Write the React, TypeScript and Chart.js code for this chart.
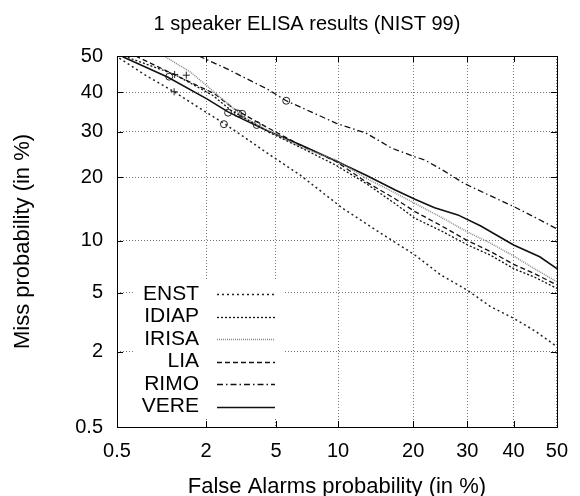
import React, { useEffect, useRef } from 'react';
import { Chart, LinearScale, registerables } from 'chart.js';

Chart.register(...registerables);

// ---------- data (percent) ----------
const TITLE = '1 speaker ELISA results (NIST 99)';
const X_TITLE = 'False Alarms probability (in %)';
const Y_TITLE = 'Miss probability (in %)';

const X_TICKS = [0.5, 2, 5, 10, 20, 30, 40, 50];
const Y_TICKS = [0.5, 2, 5, 10, 20, 30, 40, 50];

const ENST_FA = [0.52, 0.8, 1.25, 1.8, 2.56, 3.4, 4.5, 6.65, 10.5, 15, 20.3, 24.9, 30, 34.9, 40, 45, 50];
const ENST_MISS = [49.4, 44.7, 40.2, 36.0, 32.0, 28.5, 25.0, 20.4, 14.5, 11.0, 8.35, 6.4, 5.2, 4.09, 3.43, 2.8, 2.18];

const IDIAP_FA = [0.6, 1.26, 2.2, 2.8, 3.6, 4.6, 6.65, 9.8, 13.2, 17, 20.3, 25, 30, 35, 40, 45, 50];
const IDIAP_MISS = [49.6, 44.9, 39.2, 35.4, 32.6, 29.8, 26.3, 22.4, 18.8, 15.4, 13.0, 11.2, 9.5, 8.3, 7.0, 6.2, 5.33];

const IRISA_FA = [1.07, 1.59, 2.12, 2.77, 3.43, 4.14, 6.65, 9.8, 13.2, 17, 20.3, 25, 30, 34.9, 40, 45.3, 50];
const IRISA_MISS = [50, 45.6, 41.0, 36.6, 33.2, 31.2, 26.4, 23.5, 19.8, 17.2, 15.3, 13.1, 11.1, 9.68, 8.25, 6.86, 5.85];

const LIA_FA = [0.68, 1.22, 2.24, 2.93, 3.8, 4.79, 6.65, 9.8, 13.2, 17, 20.3, 25, 30, 35, 40, 45, 50];
const LIA_MISS = [50, 45.1, 39.7, 35.7, 32.8, 30.3, 26.8, 23.2, 19.1, 16.2, 14.0, 11.9, 10.0, 8.7, 7.4, 6.5, 5.59];

const RIMO_FA = [1.8, 2.71, 4.5, 5.65, 7.5, 9.84, 13.2, 16.7, 20.3, 22, 25.5, 29.4, 34, 40, 45, 50];
const RIMO_MISS = [50, 46.3, 40.9, 37.8, 34.9, 32.0, 29.6, 26.1, 24.2, 23.5, 21.2, 18.8, 16.9, 14.8, 13.1, 11.5];

const VERE_FA = [0.55, 1.13, 2.02, 2.71, 3.5, 4.4, 6.65, 9.8, 13.2, 17.2, 20.3, 23.7, 28.1, 32.8, 40, 46, 50];
const VERE_MISS = [49.8, 44.2, 38.3, 34.9, 32.5, 30.4, 26.9, 23.3, 20.4, 17.6, 16.0, 14.6, 13.5, 11.9, 9.47, 8.17, 7.0];

const CIRCLE_FA = [1.16, 2.71, 3.09, 3.27, 2.56, 3.94, 5.65];
const CIRCLE_MISS = [44.3, 34.7, 34.5, 34.4, 31.8, 31.6, 37.8];
const PLUS_FA = [1.26, 1.5, 1.25];
const PLUS_MISS = [44.9, 44.7, 40.2];

const SYSTEMS = ['ENST', 'IDIAP', 'IRISA', 'LIA', 'RIMO', 'VERE'];

// ---------- normal deviate helpers ----------
function probit(p: number): number {
  const a = [-3.969683028665376e1, 2.209460984245205e2, -2.759285104469687e2, 1.38357751867269e2, -3.066479806614716e1, 2.506628277459239];
  const b = [-5.447609879822406e1, 1.615858368580409e2, -1.556989798598866e2, 6.680131188771972e1, -1.328068155288572e1];
  const c = [-7.784894002430293e-3, -3.223964580411365e-1, -2.400758277161838, -2.549732539343734, 4.374664141464968, 2.938163982698783];
  const d = [7.784695709041462e-3, 3.224671290700398e-1, 2.445134137142996, 3.754408661907416];
  const pl = 0.02425;
  if (p < pl) {
    const q = Math.sqrt(-2 * Math.log(p));
    return (((((c[0] * q + c[1]) * q + c[2]) * q + c[3]) * q + c[4]) * q + c[5]) / ((((d[0] * q + d[1]) * q + d[2]) * q + d[3]) * q + 1);
  }
  if (p <= 1 - pl) {
    const q = p - 0.5;
    const r = q * q;
    return ((((((a[0] * r + a[1]) * r + a[2]) * r + a[3]) * r + a[4]) * r + a[5]) * q) / (((((b[0] * r + b[1]) * r + b[2]) * r + b[3]) * r + b[4]) * r + 1);
  }
  const q = Math.sqrt(-2 * Math.log(1 - p));
  return -(((((c[0] * q + c[1]) * q + c[2]) * q + c[3]) * q + c[4]) * q + c[5]) / ((((d[0] * q + d[1]) * q + d[2]) * q + d[3]) * q + 1);
}

function normCdf(z: number): number {
  const t = 1 / (1 + 0.3275911 * Math.abs(z) / Math.SQRT2);
  const y = 1 - (((((1.061405429 * t - 1.453152027) * t) + 1.421413741) * t - 0.284496736) * t + 0.254829592) * t * Math.exp(-(z * z) / 2);
  return z >= 0 ? 0.5 * (1 + y) : 0.5 * (1 - y);
}

class ProbitScale extends (LinearScale as any) {
  static id = 'probit';
  static defaults = (LinearScale as any).defaults;
  determineDataLimits() {
    this.min = this.options.min;
    this.max = this.options.max;
  }
  buildTicks() {
    const vals = this.axis === 'x' ? X_TICKS : Y_TICKS;
    return vals.map((v) => ({ value: v }));
  }
  configure() {
    super.configure();
    this._pmin = probit(this.min / 100);
    this._pmax = probit(this.max / 100);
  }
  getPixelForValue(value: number) {
    const dec = (probit(value / 100) - this._pmin) / (this._pmax - this._pmin);
    return this.getPixelForDecimal(dec);
  }
  getValueForPixel(pixel: number) {
    const dec = this.getDecimalForPixel(pixel);
    return 100 * normCdf(this._pmin + dec * (this._pmax - this._pmin));
  }
}
Chart.register(ProbitScale as any);

const FONT = 'Liberation Sans, Arial, Helvetica, sans-serif';

function pts(xs: number[], ys: number[]) {
  return xs.map((x, i) => ({ x, y: ys[i] }));
}

const frameTicksPlugin = {
  id: 'frameTicks',
  afterDatasetsDraw(chart: any) {
    const { ctx, chartArea: a } = chart;
    const xs = chart.scales.x;
    const ys = chart.scales.y;
    ctx.save();
    ctx.strokeStyle = '#000';
    ctx.lineWidth = 1;
    ctx.setLineDash([]);
    ctx.beginPath();
    xs.ticks.forEach((_t: any, i: number) => {
      const px = Math.round(xs.getPixelForTick(i)) + 0.5;
      ctx.moveTo(px, a.bottom);
      ctx.lineTo(px, a.bottom - 6);
      ctx.moveTo(px, a.top);
      ctx.lineTo(px, a.top + 6);
    });
    ys.ticks.forEach((_t: any, i: number) => {
      const py = Math.round(ys.getPixelForTick(i)) + 0.5;
      ctx.moveTo(a.left, py);
      ctx.lineTo(a.left + 6, py);
      ctx.moveTo(a.right, py);
      ctx.lineTo(a.right - 6, py);
    });
    ctx.stroke();
    ctx.strokeRect(Math.round(a.left) + 0.5, Math.round(a.top) + 0.5, Math.round(a.right - a.left), Math.round(a.bottom - a.top));
    ctx.restore();
  },
};

const keyPlugin = {
  id: 'gnuKey',
  beforeDatasetsDraw(chart: any) {
    const { ctx } = chart;
    ctx.save();
    ctx.fillStyle = '#fff';
    ctx.fillRect(133, 281, 150, 137);
    ctx.font = `21px ${FONT}`;
    ctx.textAlign = 'right';
    ctx.textBaseline = 'middle';
    SYSTEMS.forEach((name, i) => {
      const ds = chart.data.datasets[i];
      const y = 294 + i * 22.5;
      ctx.fillStyle = '#000';
      ctx.fillText(name, 199, y);
      ctx.strokeStyle = ds.borderColor;
      ctx.lineWidth = ds.borderWidth;
      ctx.setLineDash(ds.borderDash || []);
      ctx.beginPath();
      ctx.moveTo(217, Math.round(y) + 0.5);
      ctx.lineTo(275, Math.round(y) + 0.5);
      ctx.stroke();
    });
    ctx.restore();
  },
};

export default function App() {
  const ref = useRef<HTMLCanvasElement | null>(null);
  useEffect(() => {
    if (!ref.current) return;
    const lineDs = (label: string, xs: number[], ys: number[], color: string, dash: number[], width: number) => ({
      label,
      data: pts(xs, ys),
      borderColor: color,
      borderDash: dash,
      borderWidth: width,
      pointRadius: 0,
      fill: false,
      tension: 0,
    });
    const chart = new Chart(ref.current, {
      type: 'line',
      data: {
        datasets: [
          lineDs('ENST', ENST_FA, ENST_MISS, '#222', [2, 3], 1.5),
          lineDs('IDIAP', IDIAP_FA, IDIAP_MISS, '#111', [2, 2], 1.3),
          lineDs('IRISA', IRISA_FA, IRISA_MISS, '#8a8a8a', [1, 1], 1.5),
          lineDs('LIA', LIA_FA, LIA_MISS, '#111', [5, 3], 1.3),
          lineDs('RIMO', RIMO_FA, RIMO_MISS, '#111', [6, 3, 1.5, 3], 1.3),
          lineDs('VERE', VERE_FA, VERE_MISS, '#111', [], 1.6),
          {
            label: 'circles',
            data: pts(CIRCLE_FA, CIRCLE_MISS),
            showLine: false,
            pointStyle: 'circle',
            pointRadius: 3.5,
            pointBorderWidth: 1,
            pointBorderColor: '#222',
            pointBackgroundColor: 'rgba(0,0,0,0)',
          } as any,
          {
            label: 'plus',
            data: pts(PLUS_FA, PLUS_MISS),
            showLine: false,
            pointStyle: 'cross',
            pointRadius: 3.5,
            pointBorderWidth: 1,
            pointBorderColor: '#222',
          } as any,
        ],
      },
      options: {
        animation: false,
        responsive: false,
        devicePixelRatio: 1,
        layout: { padding: { top: 0, right: 16, bottom: 0, left: 50 } },
        plugins: {
          legend: { display: false },
          tooltip: { enabled: false },
          title: {
            display: true,
            text: TITLE,
            color: '#000',
            font: { family: FONT, size: 20, weight: 'normal' },
            padding: { top: 12, bottom: 20 },
          },
        },
        scales: {
          x: {
            type: 'probit' as any,
            position: 'bottom',
            min: 0.5,
            max: 50,
            grid: { color: '#777', lineWidth: 1, drawTicks: false, borderDash: [1, 2] } as any,
            border: { display: false, dash: [1, 2] },
            ticks: {
              autoSkip: false,
              maxRotation: 0,
              padding: 12,
              color: '#000',
              font: { family: FONT, size: 20 },
              callback: (v: any) => String(v),
            },
            title: {
              display: true,
              text: X_TITLE,
              color: '#000',
              font: { family: FONT, size: 22, lineHeight: 0.8 },
              padding: { top: 0, bottom: 0 },
            },
            afterFit: (s: any) => {
              s.height = 69;
            },
          } as any,
          y: {
            type: 'probit' as any,
            position: 'left',
            min: 0.5,
            max: 50,
            grid: { color: '#777', lineWidth: 1, drawTicks: false, borderDash: [1, 2] } as any,
            border: { display: false, dash: [1, 2] },
            ticks: {
              autoSkip: false,
              padding: 14,
              color: '#000',
              font: { family: FONT, size: 20 },
              callback: (v: any) => String(v),
            },
            title: {
              display: true,
              text: Y_TITLE,
              color: '#000',
              font: { family: FONT, size: 22, lineHeight: 1.2 },
              padding: { top: -40, bottom: 0 },
            },
            afterFit: (s: any) => {
              s.width = 67;
            },
          } as any,
        },
      },
      plugins: [keyPlugin, frameTicksPlugin],
    } as any);
    return () => chart.destroy();
  }, []);
  return (
    <div style={{ position: 'fixed', left: 0, top: 0, width: 580, height: 496, background: '#fff' }}>
      <canvas ref={ref} width={580} height={496} style={{ display: 'block', width: 580, height: 496 }} />
    </div>
  );
}
